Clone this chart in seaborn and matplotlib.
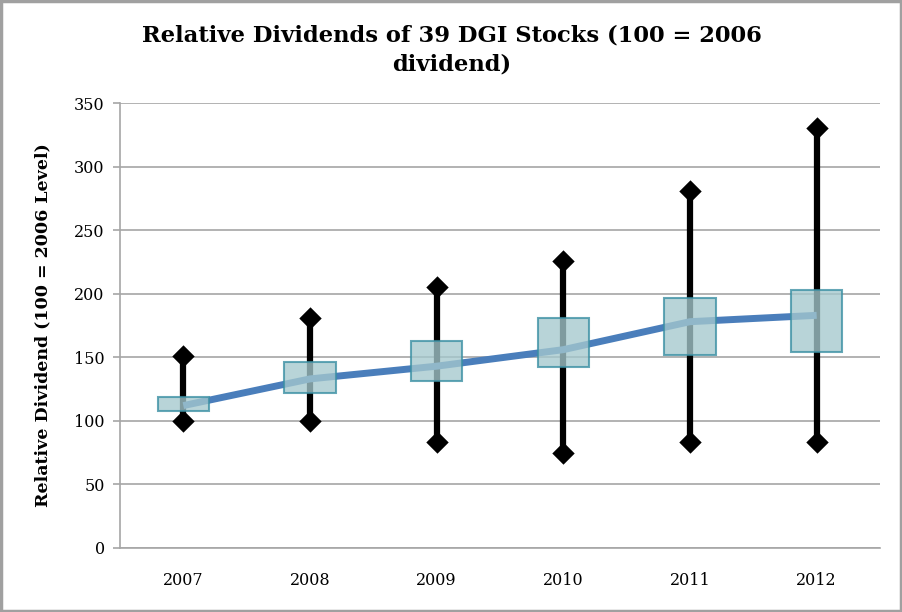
import matplotlib
matplotlib.use("Agg")
import matplotlib.pyplot as plt
import seaborn as sns
import numpy as np
import pandas as pd
from matplotlib.patches import Rectangle

years = ['2007', '2008', '2009', '2010', '2011', '2012']
max_vals = [151, 181, 205, 226, 281, 330]
min_vals = [100, 100, 83, 75, 83, 83]
box_high = [119, 146, 163, 181, 197, 203]
box_low = [108, 122, 131, 142, 152, 154]
mean_vals = [112, 133, 143, 156, 178, 183]

sns.set_theme(style="white")
plt.rcParams['font.family'] = ['DejaVu Serif']
plt.rcParams['text.color'] = 'black'

df = pd.DataFrame({'year': years, 'pos': np.arange(len(years)), 'mean': mean_vals,
                   'max': max_vals, 'min': min_vals})

fig = plt.figure(figsize=(9.03, 6.12), dpi=100)
ax = fig.add_axes([120/903, (612-548)/612, 760/903, 445/612])

grid_c = '#A6A6A6'
ax.set_ylim(0, 350)
ax.set_xlim(-0.5, len(years) - 0.5)
ax.set_yticks(np.arange(0, 351, 50))
ax.yaxis.grid(True, color=grid_c, linewidth=1.2, zorder=0)
ax.set_axisbelow(True)

# whiskers
ax.vlines(df['pos'], df['min'], df['max'], color='black', linewidth=4.5, zorder=2)
# mean line
sns.lineplot(data=df, x='pos', y='mean', ax=ax, color='#4A7EBB', linewidth=5,
             zorder=3, solid_capstyle='butt')
# diamonds
sns.scatterplot(x=np.concatenate([df['pos'], df['pos']]),
                y=np.concatenate([df['max'], df['min']]),
                marker='D', s=130, color='black', linewidth=0, ax=ax, zorder=4)
# boxes
ax.bar(df['pos'], np.array(box_high) - np.array(box_low), bottom=box_low,
       width=0.405, color='#A4C8CD', alpha=0.78, edgecolor='#3A8FA3',
       linewidth=1.5, zorder=5)

for s in ['top', 'right']:
    ax.spines[s].set_visible(False)
for s in ['left', 'bottom']:
    ax.spines[s].set_color(grid_c)
    ax.spines[s].set_linewidth(1.2)

ax.set_xticks(df['pos'])
ax.set_xticklabels(years)
ax.set_xticks(np.arange(-0.5, len(years)), minor=True)
ax.tick_params(axis='x', which='major', length=0, pad=17, labelsize=11.5, labelcolor='black')
ax.tick_params(axis='x', which='minor', length=6, width=1.2, color=grid_c, direction='out')
ax.tick_params(axis='y', which='major', length=5, width=1.2, color=grid_c, direction='out',
               labelsize=11.5, pad=6, left=True, labelcolor='black')
ax.set_xlabel('')
ax.set_ylabel('Relative Dividend (100 = 2006 Level)', fontsize=12.5, fontweight='bold',
              labelpad=16, color='black')

fig.text(452/903, 1 - 50/612, 'Relative Dividends of 39 DGI Stocks (100 = 2006\ndividend)',
         ha='center', va='center', fontsize=16.3, fontweight='bold', linespacing=1.45,
         color='black')

# outer frame
fig.patches.append(Rectangle((0.001, 0.001), 0.997, 0.997, transform=fig.transFigure,
                             fill=False, edgecolor='#A0A0A0', linewidth=2.5))

fig.savefig('out.png', dpi=100)
